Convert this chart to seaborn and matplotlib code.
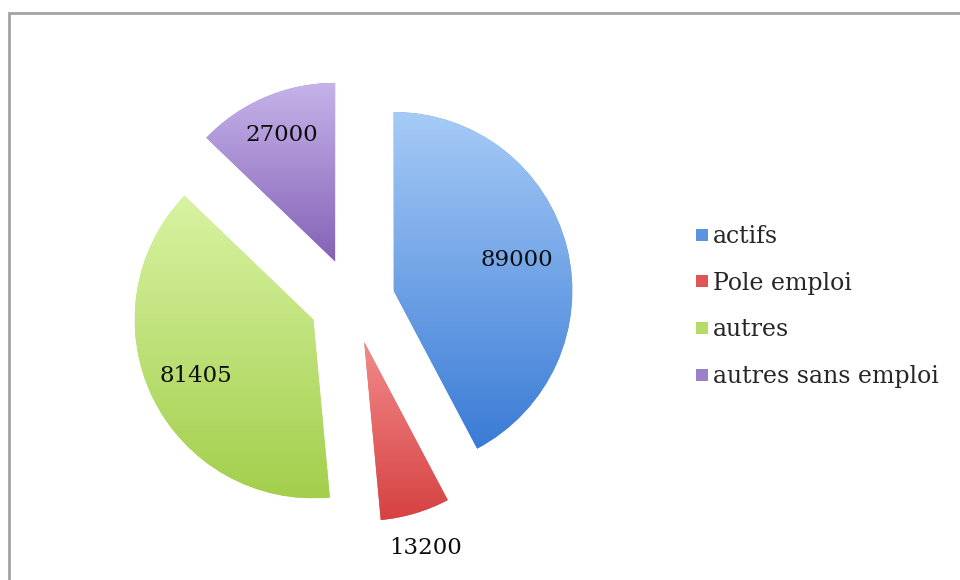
import numpy as np
import seaborn as sns
import matplotlib
matplotlib.use("Agg")
from matplotlib import pyplot as plt
from matplotlib.colors import LinearSegmentedColormap
from matplotlib.lines import Line2D
from matplotlib.patches import Rectangle

# data
categories = ["actifs", "Pole emploi", "autres", "autres sans emploi"]
values = [89000, 13200, 81405, 27000]

# gradient colours per slice (top -> bottom)
top_colors = ["#a6cbf7", "#f28a8a", "#d9f3a3", "#c6b3ea"]
bottom_colors = ["#3a7bd5", "#d64242", "#a3cf4c", "#8461b6"]
legend_colors = ["#5b93e0", "#e05555", "#b5dc6a", "#9b80cc"]

sns.set_theme(style="white")
plt.rcParams['font.family'] = ['DejaVu Serif']

fig = plt.figure(figsize=(9.6, 5.8), dpi=100)
ax = fig.add_axes([84 / 960, 11 / 580, 536 / 960, 536 / 580])

wedges, _ = ax.pie(values, startangle=90, counterclock=False,
                   explode=[0.24] * len(values), radius=1,
                   colors=legend_colors, wedgeprops=dict(linewidth=0))

grad = np.linspace(0, 1, 256).reshape(-1, 1)
for w, c0, c1 in zip(wedges, top_colors, bottom_colors):
    ext = w.get_path().get_extents()
    cmap = LinearSegmentedColormap.from_list("g", [c0, c1])
    im = ax.imshow(grad, extent=[ext.x0, ext.x1, ext.y0, ext.y1], origin="upper",
                   cmap=cmap, aspect="auto", interpolation="bilinear",
                   zorder=w.get_zorder() + 0.1)
    im.set_clip_path(w)

# value labels, inside except the small slice
label_dist = [0.71, 1.2, 0.73, 0.77]
for w, v, d in zip(wedges, values, label_dist):
    th = np.deg2rad((w.theta1 + w.theta2) / 2)
    cx, cy = w.center
    ax.text(cx + d * np.cos(th), cy + d * np.sin(th), str(v),
            ha="center", va="center", fontsize=16.5, color="#0d0d0d", zorder=5)

ax.set_xlim(-1.5, 1.5)
ax.set_ylim(-1.5, 1.5)
ax.set_aspect("equal")
ax.axis("off")

handles = [Line2D([], [], marker="s", linestyle="", markersize=8,
                  markerfacecolor=c, markeredgewidth=0) for c in legend_colors]
fig.legend(handles, categories, loc="center left", bbox_to_anchor=(0.724, 0.4716),
           frameon=False, fontsize=17, labelspacing=1.0, handlelength=0.6,
           handletextpad=0.15, borderpad=0, borderaxespad=0)

# grey frame around the chart area
fig.patches.append(Rectangle((9 / 960, -0.2), 1.2, 1.2 - 13 / 580,
                             transform=fig.transFigure, fill=False,
                             edgecolor="#a3a3a3", linewidth=2))

fig.savefig("out.png", dpi=100)
